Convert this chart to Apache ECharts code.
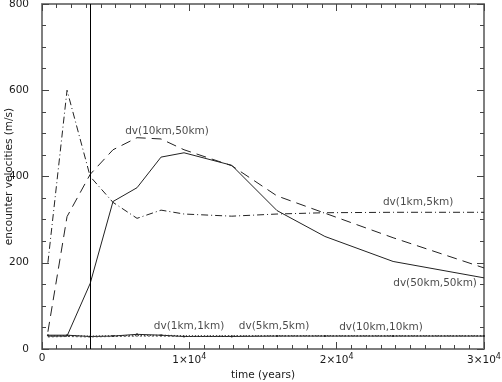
<!DOCTYPE html>
<html><head><meta charset="utf-8">
<script src="https://cdn.jsdelivr.net/npm/echarts@6/dist/echarts.min.js"></script>
<style>html,body{margin:0;padding:0;background:#fff}#c{width:502px;height:382px}</style>
</head><body><div id="c"></div>
<script>
// time (years)
var times = [400, 1700, 3270, 4820, 6450, 8080, 9640, 12880, 15950, 19200, 23830, 30000];
var dv50_50 = [30, 30, 152, 342, 374, 445, 455, 426, 321, 261, 203, 165];
var dv10_50 = [40, 307, 405, 462, 490, 487, 462, 425, 355, 315, 258, 188];
var dv1_5   = [200, 600, 400, 340, 303, 322, 313, 308, 313, 316, 317, 317];
var dv1_1   = [32, 32, 29, 30, 34, 32, 29, 29, 30, 30, 30, 30];
var dv5_5   = [30, 31, 30, 31, 31, 32, 31, 31, 31, 31, 31, 31];
var dv10_10 = [28, 29, 28, 29, 30, 30, 29, 30, 30, 30, 30, 30];
var markerTime = 3270;
var xTicks = [0, 10000, 20000, 30000];
var yTicks = [0, 200, 400, 600, 800];
var curveLabels = [
  [8486, 505, 'dv(10km,50km)'],
  [25530, 340, 'dv(1km,5km)'],
  [26680, 153, 'dv(50km,50km)'],
  [9980, 53, 'dv(1km,1km)'],
  [15750, 53, 'dv(5km,5km)'],
  [23010, 51, 'dv(10km,10km)']
];

function pairs(v){ return times.map(function(t,i){ return [t, v[i]]; }); }
var FONT = 'DejaVu Sans';
var LC = '#222';
var TC = '#1a1a1a';
var FRAME = '#777';
var chart = echarts.init(document.getElementById('c'), null, {renderer:'canvas'});
var axisLineStyle = {color:FRAME, width:1.5};
function xlab(v){
  if (v === 0) return '0';
  return (v/10000) + '×10{s|4}';
}
var tickStyle = {color:'#444'};
var opt = {
  animation:false,
  grid:{left:42, right:18, top:4, bottom:33, containLabel:false, outerBoundsMode:'none',
        show:true, borderColor:FRAME, borderWidth:1.5, backgroundColor:'transparent'},
  xAxis:[{
    type:'value', min:0, max:30000, interval:10000,
    name:'time (years)', nameLocation:'middle', nameGap:21, nameMoveOverlap:false,
    nameTextStyle:{fontFamily:FONT, fontSize:10.5, color:TC},
    axisLine:{show:true, onZero:false, lineStyle:axisLineStyle},
    axisTick:{show:true, inside:true, length:7, lineStyle:tickStyle},
    minorTick:{show:true, splitNumber:10, length:4, lineStyle:tickStyle},
    splitLine:{show:false},
    axisLabel:{formatter:xlab, margin:4, fontFamily:FONT, fontSize:10.5, color:TC,
      rich:{s:{fontSize:8, verticalAlign:'top', padding:[0,0,7,0], fontFamily:FONT, color:TC}}}
  },{
    type:'value', position:'top', min:0, max:30000, interval:10000,
    axisLine:{show:true, onZero:false, lineStyle:axisLineStyle},
    axisTick:{show:true, inside:true, length:7, lineStyle:tickStyle},
    minorTick:{show:true, splitNumber:10, length:4, lineStyle:tickStyle},
    splitLine:{show:false}, axisLabel:{show:false}
  }],
  yAxis:[{
    type:'value', min:0, max:800, interval:200,
    name:'encounter velocities (m/s)', nameLocation:'middle', nameGap:27, nameMoveOverlap:false,
    nameTextStyle:{fontFamily:FONT, fontSize:10.5, color:TC},
    axisLine:{show:true, onZero:false, lineStyle:axisLineStyle},
    axisTick:{show:true, inside:true, length:7, lineStyle:tickStyle},
    minorTick:{show:true, splitNumber:4, length:4, lineStyle:tickStyle},
    splitLine:{show:false},
    axisLabel:{margin:13, fontFamily:FONT, fontSize:10.5, color:TC}
  },{
    type:'value', position:'right', min:0, max:800, interval:200,
    axisLine:{show:true, onZero:false, lineStyle:axisLineStyle},
    axisTick:{show:true, inside:true, length:7, lineStyle:tickStyle},
    minorTick:{show:true, splitNumber:4, length:4, lineStyle:tickStyle},
    splitLine:{show:false}, axisLabel:{show:false}
  }],
  series:[
    {type:'line', name:'dv(50km,50km)', data:pairs(dv50_50), symbol:'none',
     lineStyle:{color:LC, width:1},
     markLine:{silent:true, symbol:'none', label:{show:false},
       lineStyle:{color:'#000', width:1, type:'solid'}, data:[{xAxis:markerTime}]}},
    {type:'line', name:'dv(10km,50km)', data:pairs(dv10_50), symbol:'none',
     lineStyle:{color:LC, width:1, type:[10,6]}},
    {type:'line', name:'dv(1km,5km)', data:pairs(dv1_5), symbol:'none',
     lineStyle:{color:LC, width:1, type:[7,3,1,3]}},
    {type:'line', name:'dv(1km,1km)', data:pairs(dv1_1), symbol:'circle', symbolSize:2,
     itemStyle:{color:LC}, lineStyle:{color:LC, width:1}},
    {type:'line', name:'dv(5km,5km)', data:pairs(dv5_5), symbol:'none',
     lineStyle:{color:LC, width:1, type:[1,2]}},
    {type:'line', name:'dv(10km,10km)', data:pairs(dv10_10), symbol:'none',
     lineStyle:{color:'#444', width:1, type:[2,2]}},
    {type:'scatter', name:'labels', data:curveLabels, symbolSize:0, silent:true,
     label:{show:true, position:'inside', formatter:function(p){return p.data[2];},
       fontFamily:FONT, fontSize:10.5, color:TC}}
  ]
};
chart.setOption(opt);
</script></body></html>
